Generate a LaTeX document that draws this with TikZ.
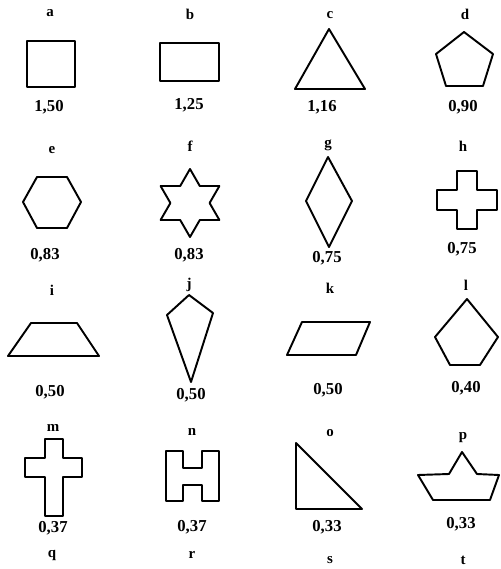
\documentclass[tikz,border=0pt]{standalone}
\usepackage{fontspec}
\setmainfont{Liberation Serif}
\usetikzlibrary{positioning}

\begin{document}
\begin{tikzpicture}[x=0.02cm, y=-0.02cm,
    outline/.style={draw, line width=1.1pt, line join=round},
    letter/.style={font=\bfseries\fontsize{8.5}{10}\selectfont, inner sep=0pt},
    value/.style={font=\bfseries\fontsize{9.5}{11}\selectfont, inner sep=0pt}]
  \useasboundingbox (0,0) rectangle (501,569);

  % first row
  \draw[outline] (27,41) rectangle (75,87);
  \draw[outline] (160,43) rectangle (219,81);
  \draw[outline] (329,29) -- (365,89) -- (295,89) -- cycle;
  \draw[outline] (464,32) -- (493,54) -- (483,86) -- (446,86) -- (436,54) -- cycle;
  \node[letter] (la) at (50,13) {a};
  \node[letter] (lb) at (190,14) {b};
  \node[letter] (lc) at (330,15) {c};
  \node[letter] (ld) at (465,14) {d};
  \node[value] (va) at (49,107) {1,50};
  \node[value] (vb) at (189,105) {1,25};
  \node[value] (vc) at (322,107) {1,16};
  \node[value] (vd) at (463,107) {0,90};

  % second row
  \draw[outline] (23,202) -- (37,177) -- (67,177) -- (81,202) -- (67,228) -- (37,228) -- cycle;
  \draw[outline] (190,169) -- (199.8,186) -- (219.4,186) -- (209.6,203) -- (219.4,220)
    -- (199.8,220) -- (190,237) -- (180.2,220) -- (160.6,220) -- (170.4,203)
    -- (160.6,186) -- (180.2,186) -- cycle;
  \draw[outline] (328,157) -- (352,201) -- (329,247) -- (306,201) -- cycle;
  \draw[outline] (457,171) -- (477,171) -- (477,190) -- (497,190) -- (497,210) -- (477,210)
    -- (477,229) -- (457,229) -- (457,210) -- (437,210) -- (437,190) -- (457,190) -- cycle;
  \node[letter] (le) at (52,150) {e};
  \node[letter] (lf) at (190,146) {f};
  \node[letter] (lg) at (328,145) {g};
  \node[letter] (lh) at (463,146) {h};
  \node[value] (ve) at (45,255) {0,83};
  \node[value] (vf) at (189,255) {0,83};
  \node[value] (vg) at (327,258) {0,75};
  \node[value] (vh) at (462,249) {0,75};

  % third row
  \draw[outline] (31,323) -- (77,323) -- (99,356) -- (8,356) -- cycle;
  \draw[outline] (189,295) -- (213,313) -- (191,382) -- (167,315) -- cycle;
  \draw[outline] (302,322) -- (370,322) -- (356,355) -- (287,355) -- cycle;
  \draw[outline] (467,299) -- (498,337) -- (480,365) -- (450,365) -- (435,337) -- cycle;
  \node[letter] (li) at (52,290) {i};
  \node[letter] (lj) at (189,285) {j};
  \node[letter] (lk) at (330,288) {k};
  \node[letter] (ll) at (466,285) {l};
  \node[value] (vi) at (50,392) {0,50};
  \node[value] (vj) at (191,395) {0,50};
  \node[value] (vk) at (328,390) {0,50};
  \node[value] (vl) at (466,388) {0,40};

  % fourth row
  \draw[outline] (45,439) -- (63,439) -- (63,458) -- (82,458) -- (82,477) -- (63,477)
    -- (63,516) -- (45,516) -- (45,477) -- (25,477) -- (25,458) -- (45,458) -- cycle;
  \draw[outline] (166,451) -- (183,451) -- (183,468) -- (202,468) -- (202,451) -- (219,451)
    -- (219,501) -- (202,501) -- (202,485) -- (183,485) -- (183,501) -- (166,501) -- cycle;
  \draw[outline] (296,443) -- (362,509) -- (296,509) -- cycle;
  \draw[outline] (418,475) -- (449,474) -- (462,452) -- (477,474) -- (499,475)
    -- (490,500) -- (433,500) -- cycle;
  \node[letter] (lm) at (53,428) {m};
  \node[letter] (ln) at (192,432) {n};
  \node[letter] (lo) at (330,433) {o};
  \node[letter] (lp) at (463,438) {p};
  \node[value] (vm) at (53,528) {0,37};
  \node[value] (vn) at (192,527) {0,37};
  \node[value] (vo) at (327,527) {0,33};
  \node[value] (vp) at (461,524) {0,33};
  \node[letter] (lq) at (52,555) {q};
  \node[letter] (lr) at (192,555) {r};
  \node[letter] (ls) at (330,560) {s};
  \node[letter] (lt) at (463,560) {t};
\end{tikzpicture}
\end{document}
